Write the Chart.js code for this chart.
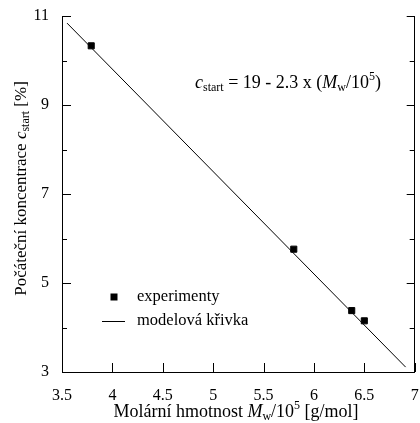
<!DOCTYPE html>
<html>
<head>
<meta charset="utf-8">
<script src="https://cdn.jsdelivr.net/npm/chart.js@4.4.1/dist/chart.umd.min.js"></script>
<style>
  html, body { margin: 0; padding: 0; background: #fff; }
  canvas { display: block; }
</style>
</head>
<body>
<canvas id="chart" width="420" height="423"></canvas>
<script>
// experiment: molar mass (x 10^5 g/mol) vs. starting concentration (%)
const massExp = [3.79, 5.80, 6.375, 6.50];
const concExp = [10.33, 5.76, 4.38, 4.15];
// model line c = 19 - 2.3 x, drawn between its two end points
const massModel = [3.55, 6.91];
const concModel = [10.84, 3.11];

const xTicks = [3.5, 4, 4.5, 5, 5.5, 6, 6.5, 7];
const yTicks = [3, 5, 7, 9, 11];
const yMinor = [4, 6, 8, 10];

const SERIF = '"Liberation Serif", "DejaVu Serif", serif';

const toXY = (xs, ys) => xs.map((x, i) => ({ x: x, y: ys[i] }));

// text with italic / subscript / superscript pieces
function richFont(kind, size) {
  const small = kind === 'sub' || kind === 'sup';
  const s = small ? Math.round(size * 0.68) : size;
  const style = kind === 'i' ? 'italic ' : '';
  return style + s + 'px ' + SERIF;
}
function richShift(kind, size) {
  if (kind === 'sub') return size * 0.17;
  if (kind === 'sup') return -size * 0.42;
  return 0;
}
function drawRich(ctx, parts, x, y, size, align) {
  let width = 0;
  parts.forEach(([t, k]) => { ctx.font = richFont(k, size); width += ctx.measureText(t).width; });
  let cx = align === 'center' ? x - width / 2 : x;
  ctx.textBaseline = 'alphabetic';
  ctx.textAlign = 'left';
  parts.forEach(([t, k]) => {
    ctx.font = richFont(k, size);
    ctx.fillText(t, cx, y + richShift(k, size));
    cx += ctx.measureText(t).width;
  });
}

const xTitle = [['Molární hmotnost ', ''], ['M', 'i'], ['w', 'sub'], ['/10', ''], ['5', 'sup'], [' [g/mol]', '']];
const yTitle = [['Počáteční koncentrace ', ''], ['c', 'i'], ['start', 'sub'], [' [%]', '']];
const formula = [['c', 'i'], ['start', 'sub'], [' = 19 - 2.3 x (', ''], ['M', 'i'], ['w', 'sub'], ['/10', ''], ['5', 'sup'], [')', '']];

// inward tick marks, titles, formula and legend
const decorations = {
  id: 'decorations',
  afterDraw(chart) {
    const ctx = chart.ctx;
    const { x, y } = chart.scales;
    const area = chart.chartArea;
    ctx.save();
    ctx.strokeStyle = '#000';
    ctx.lineWidth = 1;
    ctx.beginPath();
    xTicks.forEach(v => {
      const px = Math.round(x.getPixelForValue(v)) + 0.5;
      ctx.moveTo(px, area.bottom);
      ctx.lineTo(px, area.bottom - 9);
    });
    yTicks.concat(yMinor).forEach(v => {
      const py = Math.round(y.getPixelForValue(v)) + 0.5;
      const major = yTicks.includes(v);
      ctx.moveTo(area.left, py);
      ctx.lineTo(area.left + (major ? 9 : 5), py);
      ctx.moveTo(area.right, py);
      ctx.lineTo(area.right - (major ? 8 : 5), py);
    });
    ctx.stroke();

    ctx.fillStyle = '#000';
    drawRich(ctx, xTitle, 236, 417, 18, 'center');
    ctx.save();
    ctx.translate(26, 188.5);
    ctx.rotate(-Math.PI / 2);
    drawRich(ctx, yTitle, 0, 0, 17, 'center');
    ctx.restore();
    drawRich(ctx, formula, 195, 88, 18, 'left');

    // legend, styled from the datasets
    const [exp, model] = chart.data.datasets;
    ctx.fillStyle = exp.backgroundColor;
    ctx.fillRect(110.5, 293.5, 7, 7);
    ctx.strokeStyle = model.borderColor;
    ctx.beginPath();
    ctx.moveTo(102, 321.5);
    ctx.lineTo(125, 321.5);
    ctx.stroke();
    ctx.fillStyle = '#000';
    ctx.font = '16.5px ' + SERIF;
    ctx.textBaseline = 'middle';
    ctx.fillText(exp.label, 137, 297);
    ctx.fillText(model.label, 137, 321);
    ctx.restore();
  }
};

const tickFont = { family: SERIF, size: 16 };
const noOverflow = s => { s.paddingTop = 0; s.paddingBottom = 0; s.paddingLeft = 0; s.paddingRight = 0; };

function build() {
  new Chart(document.getElementById('chart'), {
    type: 'scatter',
    data: {
      datasets: [
        {
          label: 'experimenty',
          data: toXY(massExp, concExp),
          pointStyle: 'rect',
          pointRadius: 4.3,
          backgroundColor: '#000',
          borderColor: '#000',
          borderWidth: 1
        },
        {
          label: 'modelová křivka',
          data: toXY(massModel, concModel),
          showLine: true,
          pointRadius: 0,
          borderColor: '#000',
          borderWidth: 1
        }
      ]
    },
    options: {
      responsive: false,
      animation: false,
      layout: { padding: { top: 16, right: 0, bottom: 0, left: 0 } },
      plugins: { legend: { display: false }, tooltip: { enabled: false } },
      scales: {
        x: {
          type: 'linear',
          position: 'bottom',
          min: 3.5,
          max: 7,
          afterBuildTicks: s => { s.ticks = xTicks.map(v => ({ value: v })); },
          afterFit: s => { s.height = 51; noOverflow(s); },
          ticks: { font: tickFont, color: '#000', padding: 14, maxRotation: 0, autoSkip: false, callback: v => String(v) },
          grid: { display: false, drawTicks: false },
          border: { display: true, color: '#000', width: 1 }
        },
        y: {
          type: 'linear',
          position: 'left',
          min: 3,
          max: 11,
          afterBuildTicks: s => { s.ticks = yTicks.map(v => ({ value: v })); },
          afterFit: s => { s.width = 62; noOverflow(s); },
          ticks: { font: tickFont, color: '#000', padding: 13, callback: v => String(v) },
          grid: { display: false, drawTicks: false },
          border: { display: true, color: '#000', width: 1 }
        },
        y2: {
          type: 'linear',
          position: 'right',
          min: 3,
          max: 11,
          afterFit: s => { s.width = 5; noOverflow(s); },
          ticks: { display: false },
          grid: { display: false, drawTicks: false },
          border: { display: true, color: '#000', width: 1 }
        }
      }
    },
    plugins: [decorations]
  });
}

Promise.all([
  document.fonts.load('16px "Liberation Serif"'),
  document.fonts.load('italic 16px "Liberation Serif"')
]).then(build, build);
</script>
</body>
</html>
